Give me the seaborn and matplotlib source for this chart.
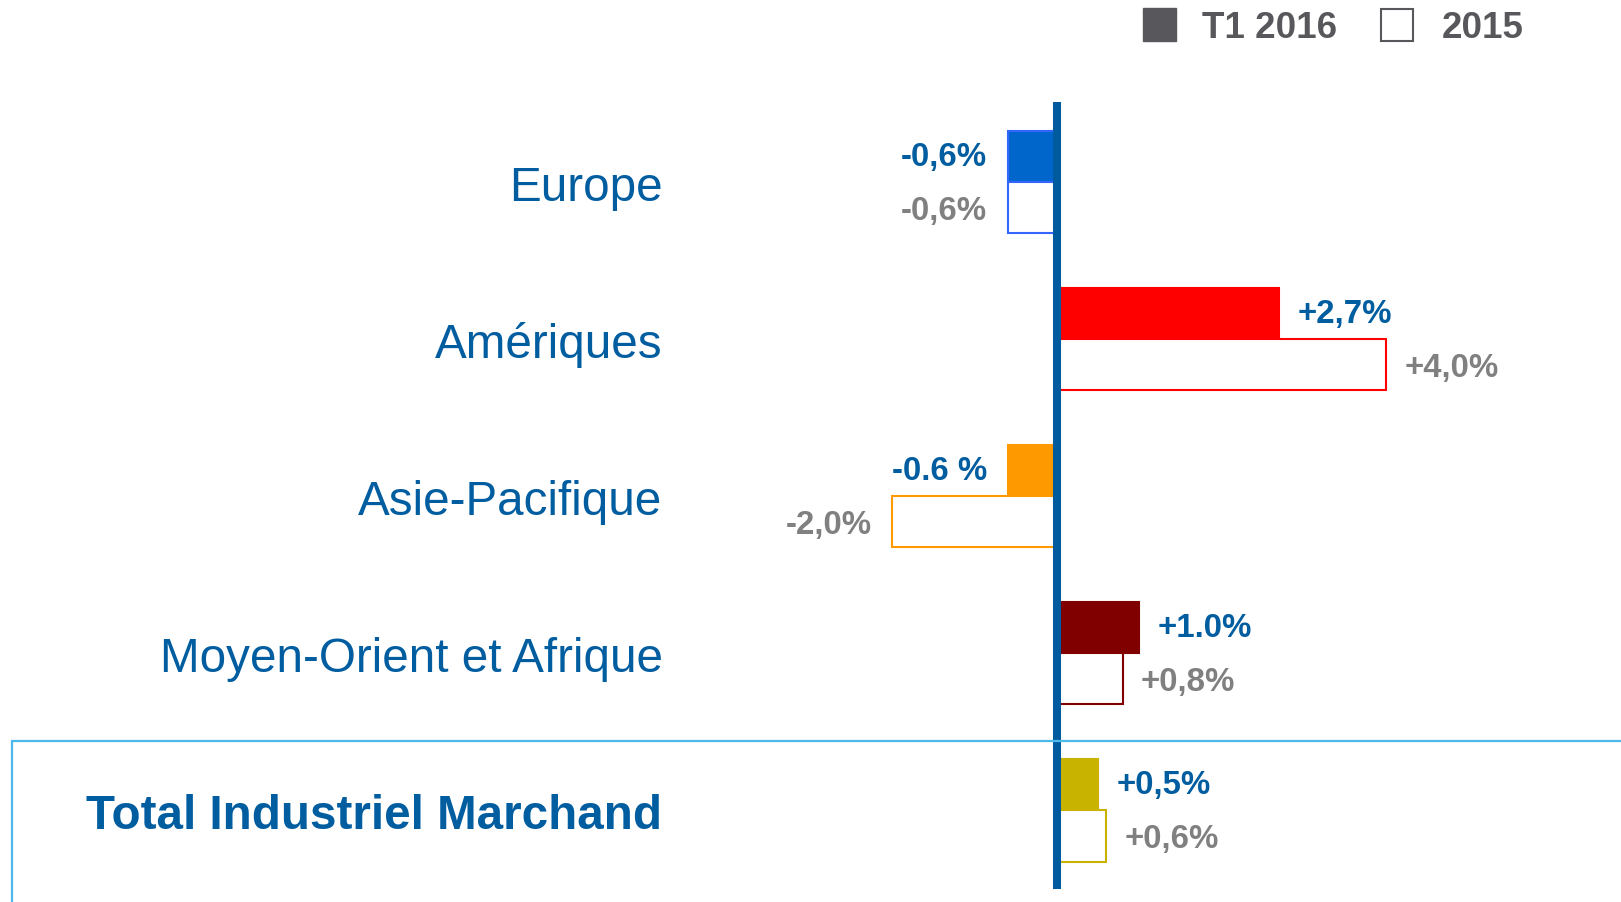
import matplotlib
matplotlib.use("Agg")
import matplotlib.pyplot as plt
from matplotlib.patches import Rectangle
import pandas as pd
import seaborn as sns

# Regional growth figures
regions = ["Europe", "Amériques", "Asie-Pacifique", "Moyen-Orient et Afrique",
           "Total Industriel Marchand"]
t1_2016 = [-0.6, 2.7, -0.6, 1.0, 0.5]
y2015 = [-0.6, 4.0, -2.0, 0.8, 0.6]
t1_labels = ["-0,6%", "+2,7%", "-0.6 %", "+1.0%", "+0,5%"]
labels_2015 = ["-0,6%", "+4,0%", "-2,0%", "+0,8%", "+0,6%"]
periods = ["T1 2016", "2015"]

# Colours per region: fill of current-period bar and outline of both bars
fill_colors = ["#0066CC", "#FF0000", "#FF9900", "#800000", "#C8B400"]
edge_colors = ["#3366FF", "#FF0000", "#FF9900", "#800000", "#C8B400"]

BLUE = "#005DA0"
GREY = "#808080"
LEGEND_GREY = "#58585C"

sns.set_theme(style="white")
plt.rcParams["font.family"] = ["Liberation Sans", "DejaVu Sans"]

df = pd.DataFrame({
    "Région": regions * 2,
    "Valeur": t1_2016 + y2015,
    "Période": [periods[0]] * len(regions) + [periods[1]] * len(regions),
})

W, H = 1621, 903
fig = plt.figure(figsize=(W / 100, H / 100), dpi=100)

# Axes placement in pixels: zero line at x=1057, 82.3 px per percentage point
ax_left_px, ax_right_px = 700, 1600
ax_top_px, ax_bot_px = 103, 890
ax = fig.add_axes([ax_left_px / W, (H - ax_bot_px) / H,
                   (ax_right_px - ax_left_px) / W, (ax_bot_px - ax_top_px) / H])

sns.barplot(data=df, y="Région", x="Valeur", hue="Période", hue_order=periods,
            order=regions, orient="h", dodge=True, width=0.65, ax=ax,
            legend=False, zorder=2)

for i, bar in enumerate(ax.containers[0]):
    bar.set_facecolor(fill_colors[i])
    bar.set_edgecolor(edge_colors[i])
    bar.set_linewidth(1.5)
for i, bar in enumerate(ax.containers[1]):
    bar.set_facecolor("white")
    bar.set_edgecolor(edge_colors[i])
    bar.set_linewidth(1.5)

px_per_unit = 82.3
ax.set_xlim((ax_left_px - 1057) / px_per_unit, (ax_right_px - 1057) / px_per_unit)
ax.set_ylim(4.5, -0.51)

# Value labels: current period in blue, previous year in grey
for container, texts, color, dy in ((ax.containers[0], t1_labels, BLUE, 0),
                                    (ax.containers[1], labels_2015, GREY, -2)):
    for bar, txt in zip(container, texts):
        end = bar.get_x() + bar.get_width()
        yc = bar.get_y() + bar.get_height() / 2
        if end >= 0:
            ax.annotate(txt, (end, yc), xytext=(13, dy), textcoords="offset points",
                        ha="left", va="center", fontsize=23.8, fontweight="bold",
                        color=color)
        else:
            ax.annotate(txt, (end, yc), xytext=(-15, dy), textcoords="offset points",
                        ha="right", va="center", fontsize=23.8, fontweight="bold",
                        color=color)

# Zero line
ax.axvline(0, color="#005A9E", lw=5.8, zorder=3)

# Category labels
ax.set_xlabel("")
ax.set_ylabel("")
ax.set_xticks([])
ax.tick_params(axis="y", length=0, pad=27)
for i, lab in enumerate(ax.get_yticklabels()):
    lab.set_color(BLUE)
    lab.set_fontsize(34.3)
    if i == len(regions) - 1:
        lab.set_fontweight("bold")
for s in ax.spines.values():
    s.set_visible(False)
ax.patch.set_alpha(0)

# Frame around the total row
fig.patches.append(Rectangle((12 / W, -0.1), 1.2, (H - 742) / H + 0.1,
                             transform=fig.transFigure, fill=False,
                             edgecolor="#4DB8EA", lw=1.6, zorder=0))

# Legend
fig.patches.append(Rectangle((1143 / W, (H - 42) / H), 33 / W, 33 / H,
                             transform=fig.transFigure, facecolor=LEGEND_GREY,
                             edgecolor=LEGEND_GREY, lw=1))
fig.text(1202 / W, (H - 28) / H, periods[0], fontsize=26.5, fontweight="bold",
         color=LEGEND_GREY, ha="left", va="center")
fig.patches.append(Rectangle((1381 / W, (H - 42) / H), 32 / W, 32 / H,
                             transform=fig.transFigure, facecolor="white",
                             edgecolor=LEGEND_GREY, lw=1.5))
fig.text(1442 / W, (H - 28) / H, periods[1], fontsize=26.5, fontweight="bold",
         color=LEGEND_GREY, ha="left", va="center")

fig.savefig("out.png", dpi=100, facecolor="white")
